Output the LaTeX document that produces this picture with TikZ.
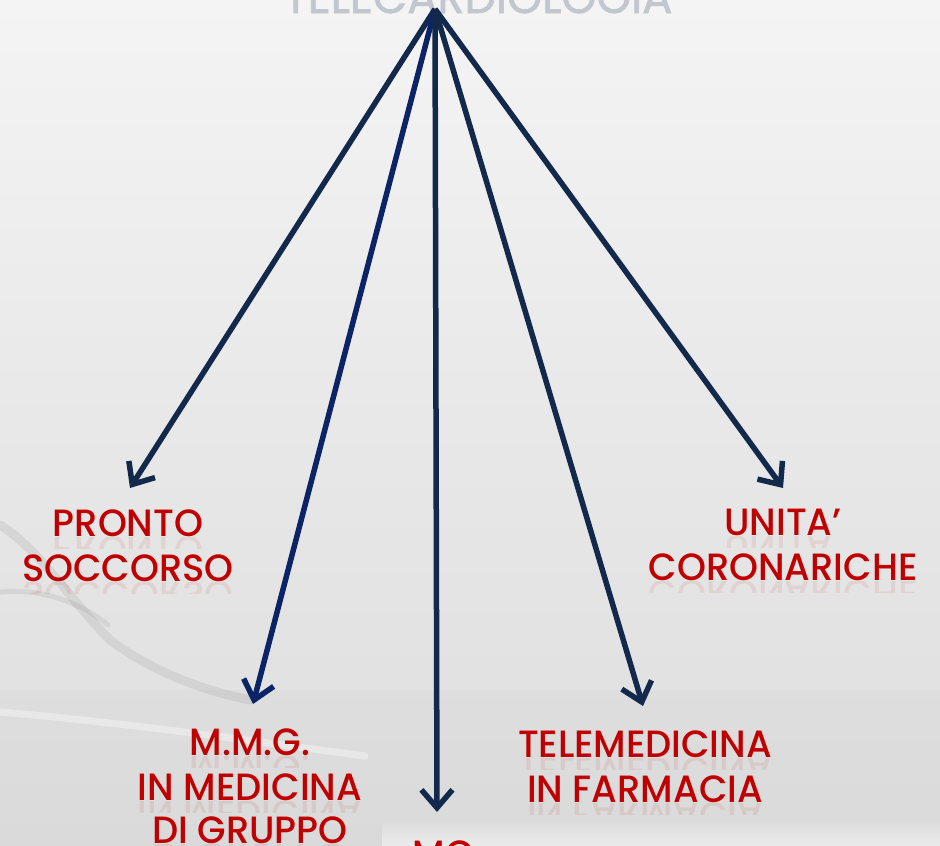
\documentclass[tikz,border=0pt]{standalone}
\usepackage{fontspec}
\usepackage{graphicx}
\setmainfont{Poppins}
\newfontfamily\labfont{Poppins Medium}[FakeStretch=0.97]
\newfontfamily\titlefont{Poppins}[FakeStretch=0.97,FakeBold=1.5]
\usetikzlibrary{arrows.meta}
\definecolor{navy}{HTML}{13294B}
\definecolor{blueline}{HTML}{0B2466}
\definecolor{labred}{HTML}{C00000}
\definecolor{bgtop}{HTML}{F4F4F4}
\definecolor{bgmid}{HTML}{E8E8E8}
\definecolor{bgbot}{HTML}{DEDEDE}
\definecolor{titlegray}{HTML}{C2C6CE}
\tikzset{
  conn/.style={draw=navy, line width=5.5pt, -{Straight Barb[length=18pt,width=31pt]}},
  lab/.style={text=labred, font=\labfont\fontsize{38}{38}\selectfont, inner sep=0pt, anchor=base},
  refl/.style={lab, opacity=0.08},
  photo/.style={draw=gray, line cap=round, opacity=0.15},
}
\newcommand\labline[4]{%
  \node[lab] (#1) at (#2,#3) {#4};
  \begin{scope}
    \clip (#2-200,#3+1) rectangle (#2+200,#3+12);
    \node[refl] (#1r) at (#2,#3) {\scalebox{1}[-1]{#4}};
  \end{scope}}
\begin{document}
\begin{tikzpicture}[x=1pt,y=-1pt]
  \useasboundingbox (0,0) rectangle (940,846);
  \clip (0,0) rectangle (940,846);
  % background
  \shade[top color=bgtop, bottom color=bgbot, middle color=bgmid] (0,0) rectangle (940,846);
  \fill[gray, opacity=0.04] (0,690) rectangle (940,846);
  \shade[top color=bgbot, bottom color=bgtop, opacity=0.7] (382,822) rectangle (940,846);
  % faint photo in lower left
  \draw[photo, line width=9pt] (0,525) .. controls (40,550) and (70,600) .. (110,640) .. controls (150,670) and (200,690) .. (250,700);
  \draw[photo, line width=5pt] (0,592) .. controls (40,588) and (80,602) .. (108,625);
  \draw[white, opacity=0.35, line width=7pt, line cap=round] (0,712) .. controls (120,722) and (260,742) .. (365,756);
  % title (cut off at top)
  \node[text=titlegray, font=\titlefont\fontsize{46}{46}\selectfont, inner sep=0pt, anchor=base] (title) at (478,13) {TELECARDIOLOGIA};
  % connector ends
  \coordinate (apex) at (435,9);
  \coordinate (tPS) at (130,488);
  \coordinate (tMMG) at (253,704);
  \coordinate (tC) at (437,812);
  \coordinate (tTF) at (643,706);
  \coordinate (tUC) at (783,488);
  % labels
  \labline{ps1}{128}{536}{PRONTO}
  \labline{ps2}{128}{581}{SOCCORSO}
  \labline{uc1}{783}{535}{UNITA’}
  \labline{uc2}{783}{580}{CORONARICHE}
  \labline{mmg1}{250}{755}{M.M.G.}
  \labline{mmg2}{250}{800}{IN MEDICINA}
  \labline{mmg3}{250}{843}{DI GRUPPO}
  \labline{tf1}{645}{757}{TELEMEDICINA}
  \labline{tf2}{645}{802}{IN FARMACIA}
  \node[lab, anchor=north] (bot) at (443,841) {MC};
  % connectors
  \draw[conn] (apex) -- (tPS);
  \draw[conn, draw=blueline] (apex) -- (tMMG);
  \draw[conn] (apex) -- (tC);
  \draw[conn] (apex) -- (tTF);
  \draw[conn] (apex) -- (tUC);
\end{tikzpicture}
\end{document}
